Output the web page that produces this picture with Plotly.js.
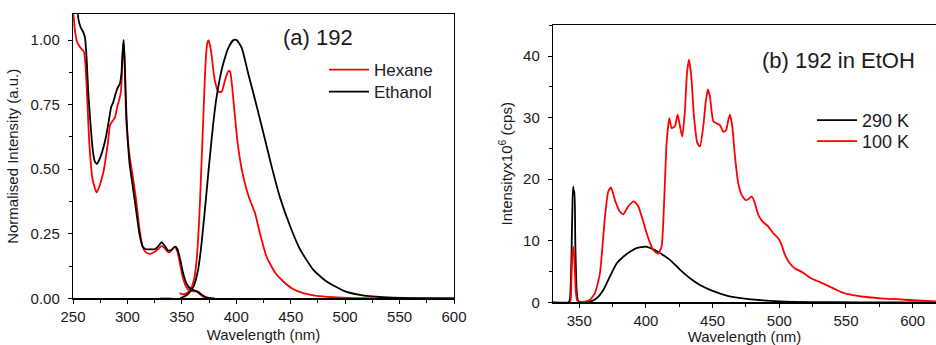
<!DOCTYPE html>
<html>
<head>
<meta charset="utf-8">
<script src="https://cdn.plot.ly/plotly-3.0.1.min.js"></script>
<style>
  html, body { margin: 0; padding: 0; background: #fff; }
  #chart { width: 936px; height: 345px; }
</style>
</head>
<body>
<div id="chart"></div>
<script>
// ---------- Panel (a): normalised absorption + emission of 192 ----------
const hexAbsX = [249, 250, 252, 254, 257, 260, 261.5, 263, 265, 268, 271.7, 274, 278, 282, 284, 286, 288.5, 290.5, 292.5, 294, 295.5, 296.5, 297.5, 299, 302, 305, 308, 311, 314, 317, 321, 325, 328, 331.5, 334, 337.5, 340, 343.5, 346, 348.5, 351, 354, 357, 361, 364, 367, 370, 373];
const hexAbsY = [1.16, 1.12, 1.03, 0.99, 0.97, 0.955, 0.9, 0.78, 0.6, 0.46, 0.41, 0.43, 0.49, 0.6, 0.67, 0.685, 0.7, 0.74, 0.77, 0.8, 0.93, 1.0, 0.9, 0.68, 0.55, 0.47, 0.38, 0.27, 0.2, 0.178, 0.172, 0.18, 0.19, 0.203, 0.195, 0.178, 0.183, 0.2, 0.18, 0.13, 0.08, 0.045, 0.03, 0.027, 0.025, 0.015, 0.005, 0];

const hexEmX = [330, 340, null, 348, 351, 354.6, 357, 359.2, 361.5, 363.6, 365.5, 366.7, 368.3, 369.7, 371, 372.2, 373.5, 374.6, 375.8, 377.4, 379, 380.5, 383.5, 386.6, 389.7, 392.7, 394.3, 397.3, 401, 405, 409.5, 412.6, 417.2, 421.8, 427.9, 435.6, 443.2, 452.4, 461.6, 473.8, 489, 510, 530, 560, 600];
const hexEmY = [0, 0, null, 0.02, 0.015, 0.02, 0.03, 0.045, 0.08, 0.15, 0.27, 0.38, 0.55, 0.70, 0.84, 0.94, 0.99, 1.0, 0.98, 0.94, 0.88, 0.84, 0.80, 0.80, 0.846, 0.88, 0.878, 0.77, 0.61, 0.50, 0.42, 0.38, 0.33, 0.25, 0.16, 0.10, 0.065, 0.035, 0.02, 0.009, 0.004, 0.001, 0, 0, 0];

const ethAbsX = [252, 253, 255, 257, 259.5, 261, 262.5, 264, 266, 268, 270, 272, 274, 277, 280, 283, 285, 287, 289, 291, 293, 294.5, 295.5, 296.5, 297.5, 299, 302, 305, 308, 311, 314, 317, 321, 325, 328, 331.5, 334, 337.5, 340, 344, 346, 348.5, 351, 353.5, 356, 359, 362, 365, 368, 371, 375, 380];
const ethAbsY = [1.3, 1.2, 1.08, 1.05, 1.03, 1.01, 0.93, 0.8, 0.68, 0.58, 0.53, 0.52, 0.535, 0.57, 0.62, 0.69, 0.74, 0.76, 0.79, 0.815, 0.83, 0.87, 0.95, 1.0, 0.92, 0.72, 0.52, 0.43, 0.34, 0.25, 0.2, 0.19, 0.19, 0.19, 0.2, 0.217, 0.205, 0.185, 0.187, 0.2, 0.19, 0.15, 0.1, 0.065, 0.045, 0.035, 0.03, 0.025, 0.015, 0.007, 0.002, 0];

const ethEmX = [348.4, 351, 354.6, 357.5, 360.7, 363, 365.3, 367.5, 369.7, 372, 374.3, 376.6, 378.9, 381.2, 383.5, 385.8, 388.1, 392.7, 397.3, 400.4, 405, 411, 417.2, 424.9, 432.5, 440.2, 449.4, 458.5, 470.8, 483, 498.3, 513.6, 535, 560, 600];
const ethEmY = [0, 0.005, 0.013, 0.025, 0.045, 0.075, 0.12, 0.19, 0.28, 0.38, 0.485, 0.585, 0.68, 0.76, 0.82, 0.87, 0.91, 0.97, 1.0, 1.0, 0.97, 0.87, 0.77, 0.64, 0.51, 0.39, 0.28, 0.19, 0.11, 0.065, 0.03, 0.013, 0.004, 0.001, 0];

// ---------- Panel (b): 192 in EtOH, 290 K vs 100 K ----------
const k290X = [330, 342, 343, 344, 345, 345.5, 346, 346.5, 347, 348, 349, 350, 354, 358, 363, 368, 373, 378, 383, 388, 393, 400, 405.5, 410.5, 418, 425.5, 433, 440.5, 450, 460.5, 475.5, 500.5, 525, 560, 620];
const k290Y = [0, 0, 0.5, 6, 17, 18.8, 17.5, 18, 10, 2, 0.3, 0, 0.02, 0.1, 0.65, 2.0, 4.2, 6.3, 7.4, 8.2, 8.8, 9.05, 8.6, 8.0, 6.9, 5.3, 3.9, 2.8, 1.85, 1.1, 0.55, 0.15, 0.03, 0, 0];

const k100X = [330, 343, 344, 345, 345.7, 346.5, 347.5, 348.5, 350, 354, 358, 361.75, 365.5, 369.25, 371.75, 373.75, 376.75, 380.5, 383, 386.75, 391, 394.25, 398, 401.75, 405.5, 409.25, 411.75, 413.5, 415.5, 417.5, 419.25, 421.75, 423.75, 425.5, 427.25, 429.25, 430.75, 432.25, 434, 436, 438.5, 440.5, 443, 445, 446.5, 448, 450.5, 453.5, 455.5, 458, 460, 461.75, 463, 464.75, 466.75, 469.25, 471.75, 474.75, 476.75, 479.25, 481.25, 484.25, 487.5, 491.75, 495.5, 499.25, 501.75, 504.25, 508, 511.75, 515.5, 519.25, 523, 528, 535.5, 543, 550.5, 563, 575.5, 588, 600.5, 620];
const k100Y = [0, 0, 3, 8.5, 9, 6, 1.5, 0.3, 0.1, 0.1, 0.4, 1.5, 4.7, 13.9, 18.0, 18.65, 16.6, 14.7, 14.3, 15.6, 16.4, 15.6, 13.1, 10.4, 8.5, 7.9, 9.05, 15.6, 25.9, 29.9, 28.3, 28.6, 30.5, 28.6, 26.9, 31.3, 37.2, 39.4, 36.7, 30.2, 25.9, 25.3, 28.6, 32.9, 34.6, 33.4, 29.4, 29.0, 28.8, 27.7, 27.9, 29.6, 30.5, 28.6, 23.7, 19.3, 17.45, 16.6, 16.75, 17.2, 16.4, 14.2, 13.1, 12.3, 11.2, 10.4, 9.3, 7.7, 6.3, 5.5, 5.1, 4.6, 4.0, 3.5, 2.8, 2.0, 1.35, 0.9, 0.65, 0.5, 0.33, 0.12];

const RED = '#ff0000', BLACK = '#000000';
const FONT = 'Liberation Sans, Arial, sans-serif';
const TXT = '#1a1a1a';
const line = (c) => ({ color: c, width: 1.8, shape: 'spline', smoothing: 0.5 });

const traces = [
  { x: hexAbsX, y: hexAbsY, name: 'Hexane', legendgroup: 'hex', mode: 'lines', line: line(RED), xaxis: 'x', yaxis: 'y', legend: 'legend' },
  { x: hexEmX, y: hexEmY, name: 'Hexane', legendgroup: 'hex', showlegend: false, mode: 'lines', line: line(RED), xaxis: 'x', yaxis: 'y' },
  { x: ethAbsX, y: ethAbsY, name: 'Ethanol', legendgroup: 'eth', mode: 'lines', line: line(BLACK), xaxis: 'x', yaxis: 'y', legend: 'legend3' },
  { x: ethEmX, y: ethEmY, name: 'Ethanol', legendgroup: 'eth', showlegend: false, mode: 'lines', line: line(BLACK), xaxis: 'x', yaxis: 'y' },
  { x: k290X, y: k290Y, name: '290 K', mode: 'lines', line: line(BLACK), xaxis: 'x2', yaxis: 'y2', legend: 'legend2' },
  { x: k100X, y: k100Y, name: '100 K', mode: 'lines', line: line(RED), xaxis: 'x2', yaxis: 'y2', legend: 'legend4' }
];

const axisCommon = {
  showgrid: false, zeroline: false, showline: true, linecolor: '#000', linewidth: 1.2,
  ticks: 'outside', ticklen: 4, tickwidth: 1, tickcolor: '#000',
  tickfont: { family: FONT, size: 15, color: TXT },
  automargin: false
};

const W = 936, H = 345;
const legendBase = (x, yTop, size) => ({
  x: x / W, y: 1 - yTop / H, xanchor: 'left', yanchor: 'top',
  bgcolor: 'rgba(0,0,0,0)', borderwidth: 0, itemwidth: 40,
  font: { family: FONT, size: size, color: TXT }
});

const layout = {
  width: W, height: H,
  margin: { l: 0, r: 0, t: 0, b: 0 },
  paper_bgcolor: '#fff', plot_bgcolor: '#fff',
  font: { family: FONT, color: TXT },
  xaxis: Object.assign({}, axisCommon, {
    domain: [73 / W, 454 / W], anchor: 'y', range: [250, 600], dtick: 50, tick0: 250, mirror: true,
    minor: { dtick: 25, ticklen: 3, tickcolor: '#000', ticks: 'outside' },
    title: { text: 'Wavelength (nm)', font: { family: FONT, size: 15, color: TXT }, standoff: 6 }
  }),
  yaxis: Object.assign({}, axisCommon, {
    domain: [1 - 298.3 / H, 1 - 14.3 / H], anchor: 'x', range: [0, 1.1], dtick: 0.25, tick0: 0, tickformat: '.2f', mirror: true,
    minor: { dtick: 0.125, ticklen: 3, tickcolor: '#000', ticks: 'outside' },
    ticklabelstandoff: 5,
    title: { text: 'Normalised Intensity (a.u.)', font: { family: FONT, size: 15, color: TXT }, standoff: 8 }
  }),
  xaxis2: Object.assign({}, axisCommon, {
    domain: [553 / W, 1], anchor: 'y2', range: [330.3, 617.5], dtick: 50, tick0: 350, mirror: true,
    minor: { dtick: 25, ticklen: 3, tickcolor: '#000', ticks: 'outside' },
    title: { text: 'Wavelength (nm)', font: { family: FONT, size: 15, color: TXT }, standoff: 6 }
  }),
  yaxis2: Object.assign({}, axisCommon, {
    domain: [1 - 302.3 / H, 1 - 25.3 / H], anchor: 'x2', range: [0, 45], dtick: 10, tick0: 0, mirror: false,
    minor: { dtick: 5, ticklen: 3, tickcolor: '#000', ticks: 'outside' },
    ticklabelstandoff: 5,
    title: { text: 'Intensityx10<sup>6</sup> (cps)', font: { family: FONT, size: 15, color: TXT }, standoff: 6 }
  }),
  legend: legendBase(324, 52, 17),
  legend3: legendBase(324, 74, 17),
  legend2: legendBase(812, 102, 18),
  legend4: legendBase(812, 123, 18),
  annotations: [
    { text: '(a) 192', xref: 'paper', yref: 'paper', x: 318 / W, y: 1 - 37 / H, xanchor: 'center', yanchor: 'middle', showarrow: false, font: { family: FONT, size: 22, color: TXT } },
    { text: '(b) 192 in EtOH', xref: 'paper', yref: 'paper', x: 838 / W, y: 1 - 60 / H, xanchor: 'center', yanchor: 'middle', showarrow: false, font: { family: FONT, size: 22, color: TXT } }
  ],
  showlegend: true
};

Plotly.newPlot('chart', traces, layout, { staticPlot: true, displayModeBar: false });
</script>
</body>
</html>
